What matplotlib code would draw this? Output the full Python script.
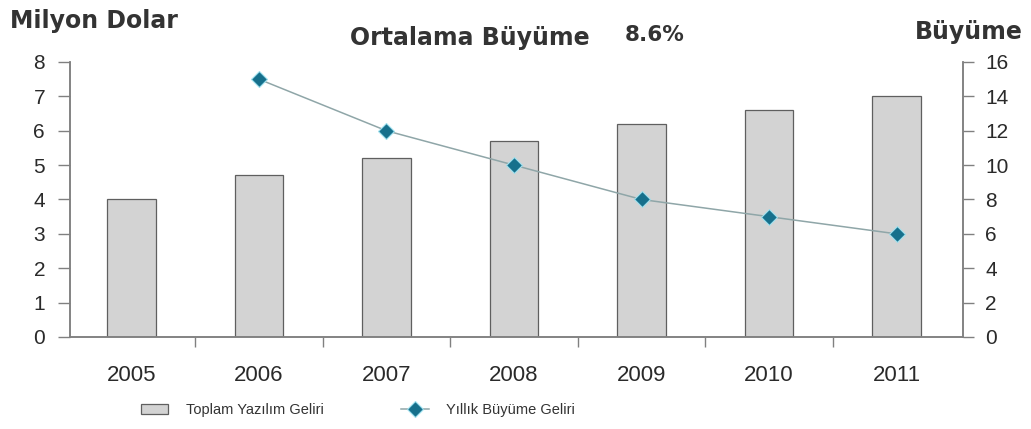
import matplotlib.pyplot as plt
import numpy as np

plt.rcParams['font.family'] = ['Liberation Sans', 'DejaVu Sans']

years = ['2005', '2006', '2007', '2008', '2009', '2010', '2011']
gelir = [4.0, 4.7, 5.2, 5.7, 6.2, 6.6, 7.0]          # Milyon Dolar
buyume_yil = ['2006', '2007', '2008', '2009', '2010', '2011']
buyume = [15, 12, 10, 8, 7, 6]                         # %

fig = plt.figure(figsize=(10.31, 4.29), dpi=100)
ax = fig.add_axes([0.068, 0.2145, 0.866, 0.641])
ax2 = ax.twinx()

x = np.arange(len(years))
ax.bar(x, gelir, width=0.38, color='#d3d3d3', edgecolor='#5f5f5f',
       linewidth=0.9, label='Toplam Yazılım Geliri', zorder=2)

xb = [years.index(y) for y in buyume_yil]
ax2.plot(xb, buyume, color='#8fa6a8', linewidth=1.1, marker='D',
         markersize=8, markerfacecolor='#16708c', markeredgecolor='#9fe0ee',
         markeredgewidth=0.8, label='Yıllık Büyüme Geliri', zorder=3)

ax.set_xlim(-0.48, 6.52)
ax.set_ylim(0, 8)
ax2.set_ylim(0, 16)
ax.set_yticks(range(0, 9))
ax2.set_yticks(range(0, 17, 2))

# kategori etiketleri ortada, tik çizgileri aralarda
ax.set_xticks(x)
ax.set_xticklabels(years)
ax.set_xticks(np.arange(0.5, 6.5, 1), minor=True)
ax.tick_params(axis='x', which='major', length=0, pad=20,
               labelsize=16, labelcolor='#2a2a2a')
ax.tick_params(axis='x', which='minor', length=7, color='#808080', width=1)

for a in (ax, ax2):
    a.spines['top'].set_visible(False)
    for s in ('left', 'right', 'bottom'):
        a.spines[s].set_color('#808080')
        a.spines[s].set_linewidth(1.1)
ax.tick_params(axis='y', length=9, color='#808080', width=1,
               labelsize=15, labelcolor='#2a2a2a', pad=9)
ax2.tick_params(axis='y', length=8, color='#808080', width=1,
                labelsize=15, labelcolor='#2a2a2a', pad=8)

fig.text(0.01, 0.952, 'Milyon Dolar', fontsize=17, fontweight='bold',
         family='DejaVu Sans', color='#333333', ha='left', va='center')
fig.text(0.339, 0.912, 'Ortalama Büyüme', fontsize=17, fontweight='bold',
         family='DejaVu Sans', color='#333333', ha='left', va='center')
fig.text(0.606, 0.918, '8.6%', fontsize=15.5, fontweight='bold',
         family='DejaVu Sans', color='#333333', ha='left', va='center')
fig.text(0.887, 0.925, 'Büyüme', fontsize=17, fontweight='bold',
         family='DejaVu Sans', color='#333333', ha='left', va='center')

h1, l1 = ax.get_legend_handles_labels()
h2, l2 = ax2.get_legend_handles_labels()
fig.legend(h1 + h2, l1 + l2, loc='center', bbox_to_anchor=(0.347, 0.044),
           ncol=2, frameon=False, fontsize=10.5, columnspacing=5.3,
           handlelength=1.9, handletextpad=1.2, labelcolor='#333333')

fig.savefig('out.png', dpi=100)
